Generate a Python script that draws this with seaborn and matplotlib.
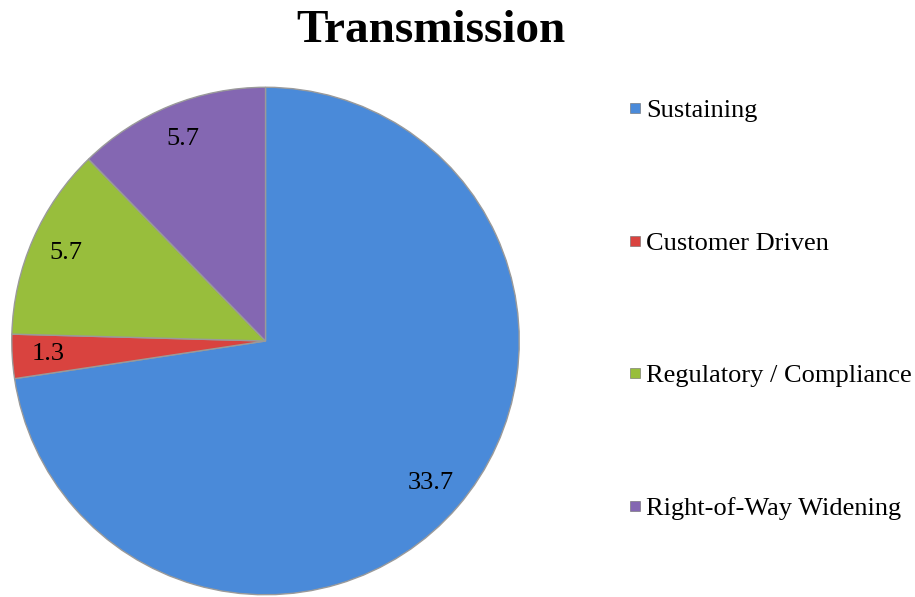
import matplotlib
matplotlib.use('Agg')
import matplotlib.pyplot as plt
import seaborn as sns
from matplotlib.lines import Line2D

categories = ['Sustaining', 'Customer Driven', 'Regulatory / Compliance', 'Right-of-Way Widening']
values = [33.7, 1.3, 5.7, 5.7]
labels = ['33.7', '1.3', '5.7', '5.7']
colors = ['#4a8ad9', '#d9433f', '#98be3c', '#8467b2']

sns.set_theme(style='white')
plt.rcParams['font.family'] = ['Liberation Serif', 'DejaVu Serif']
plt.rcParams['text.color'] = 'black'

fig = plt.figure(figsize=(9.15, 5.97), dpi=100)
ax = fig.add_axes([10 / 915, 1 / 597, 511 / 915, 510 / 597])

wedges, texts, autotexts = ax.pie(
    values, colors=colors, startangle=90, counterclock=False,
    autopct=lambda p: '', pctdistance=0.86,
    wedgeprops=dict(edgecolor='#9a9a9a', linewidth=1.0))
for t, lab in zip(autotexts, labels):
    t.set_text(lab)
    t.set_fontsize(19)
    t.set_color('black')
ax.set_xlim(-1.005, 1.005)
ax.set_ylim(-1.005, 1.005)
ax.set_aspect('equal')

fig.suptitle('Transmission', fontsize=34, fontweight='bold', x=431 / 915, y=0.983, color='black')

handles = [Line2D([0], [0], marker='s', linestyle='', markersize=7.5,
                  markerfacecolor=c, markeredgecolor='#6a6a6a', markeredgewidth=0.4) for c in colors]
fig.legend(handles, categories, loc='upper left', bbox_to_anchor=(626 / 915, 1 - 99 / 597),
           frameon=False, fontsize=19, labelspacing=4.13, handletextpad=0.07,
           handlelength=0.7, borderaxespad=0, borderpad=0)

fig.savefig('out.png', dpi=100)
